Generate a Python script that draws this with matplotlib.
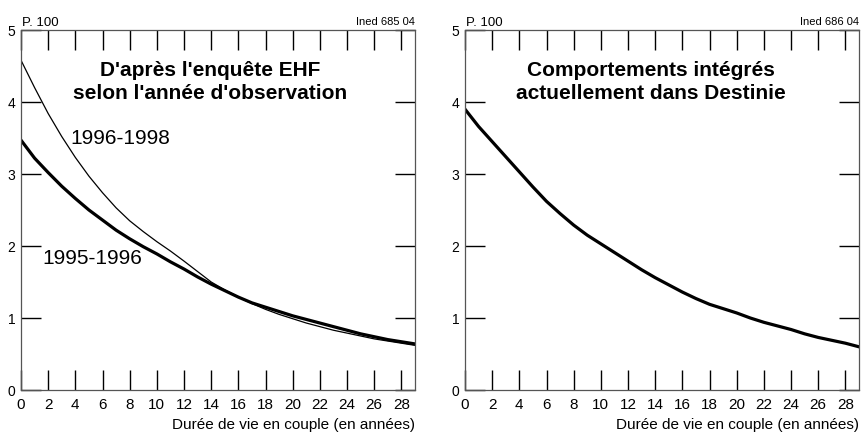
import matplotlib.pyplot as plt

plt.rcParams['font.family'] = ['Liberation Sans', 'DejaVu Sans']

# Durée de vie en couple (années)
years = list(range(0, 30))

# Panel 1 : d'après l'enquête EHF
ehf_1995_1996 = [3.47, 3.22, 3.02, 2.83, 2.66, 2.50, 2.36, 2.22, 2.10, 1.99,
                 1.89, 1.78, 1.68, 1.57, 1.47, 1.38, 1.29, 1.21, 1.15, 1.09,
                 1.03, 0.98, 0.93, 0.88, 0.83, 0.78, 0.74, 0.70, 0.67, 0.64]
ehf_1996_1998 = [4.58, 4.20, 3.84, 3.52, 3.23, 2.97, 2.74, 2.53, 2.35, 2.20,
                 2.06, 1.93, 1.79, 1.645, 1.50, 1.39, 1.29, 1.20, 1.12, 1.05,
                 0.99, 0.93, 0.88, 0.83, 0.79, 0.75, 0.71, 0.68, 0.65, 0.62]

# Panel 2 : comportements intégrés dans Destinie
destinie = [3.90, 3.66, 3.45, 3.24, 3.03, 2.82, 2.62, 2.45, 2.29, 2.15,
            2.03, 1.91, 1.79, 1.67, 1.56, 1.46, 1.36, 1.27, 1.19, 1.13,
            1.07, 1.00, 0.94, 0.89, 0.84, 0.78, 0.73, 0.69, 0.65, 0.60]

xticks = list(range(0, 29, 2))
yticks = [0, 1, 2, 3, 4, 5]

fig = plt.figure(figsize=(8.64, 4.32), dpi=100)
ax1 = fig.add_axes([21 / 864, 42 / 432, 394 / 864, 360 / 432])
ax2 = fig.add_axes([465 / 864, 42 / 432, 394 / 864, 360 / 432])

spine_col = '#555555'


def style(ax, code):
    ax.set_xlim(0, 29)
    ax.set_ylim(0, 5)
    ax.set_xticks(xticks)
    ax.set_yticks(yticks)
    ax.tick_params(axis='both', which='major', direction='in', length=14.4,
                   width=1.0, color='black', bottom=True, top=True,
                   left=True, right=True)
    ax.tick_params(axis='x', labelsize=11, pad=6)
    ax.tick_params(axis='y', labelsize=10, pad=4)
    for s in ax.spines.values():
        s.set_color(spine_col)
        s.set_linewidth(0.9)
    ax.text(0.003, 1.004, 'P. 100', transform=ax.transAxes, fontsize=9.5,
            ha='left', va='bottom')
    ax.text(1.0, 1.008, code, transform=ax.transAxes, fontsize=8,
            ha='right', va='bottom')
    ax.set_xlabel('Durée de vie en couple (en années)', fontsize=11,
                  loc='right', labelpad=4)


style(ax1, 'Ined 685 04')
style(ax2, 'Ined 686 04')

ax1.plot(years, ehf_1995_1996, color='black', lw=2.3)
ax1.plot(years, ehf_1996_1998, color='black', lw=0.9)
ax1.text(0.48, 0.855, "D'après l'enquête EHF\nselon l'année d'observation",
         transform=ax1.transAxes, ha='center', va='center', fontsize=15,
         fontweight='bold', linespacing=1.3)
ax1.text(3.6, 3.49, '1996-1998', fontsize=15, ha='left', va='center')
ax1.text(1.55, 1.83, '1995-1996', fontsize=15, ha='left', va='center')

ax2.plot(years, destinie, color='black', lw=2.3)
ax2.text(0.472, 0.855, 'Comportements intégrés\nactuellement dans Destinie',
         transform=ax2.transAxes, ha='center', va='center', fontsize=15,
         fontweight='bold', linespacing=1.3)

fig.savefig('out.png', dpi=100)
